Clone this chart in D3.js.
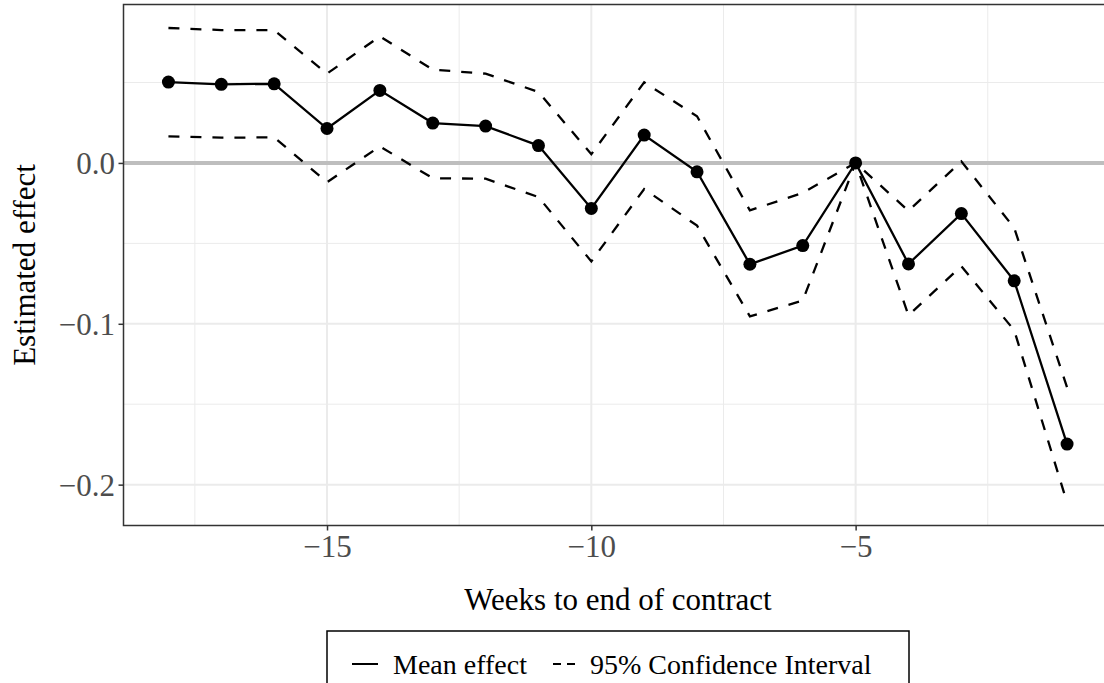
<!doctype html>
<html>
<head>
<meta charset="utf-8">
<script src="https://d3js.org/d3.v7.min.js"></script>
<style>
  body {margin: 0; background: #fff;}
  text {font-family: "Liberation Serif", "DejaVu Serif", serif;}
</style>
</head>
<body>
<svg id="chart" width="1104" height="683"></svg>
<script>
// weeks to end of contract
const weeks = [-18, -17, -16, -15, -14, -13, -12, -11, -10, -9, -8, -7, -6, -5, -4, -3, -2, -1];
// point estimates and 95% CI bounds
const meanEffect = [0.0503, 0.0489, 0.0492, 0.0214, 0.0451, 0.0248, 0.0229, 0.0108, -0.0283, 0.0173, -0.0055, -0.0630, -0.0514, 0, -0.0628, -0.0315, -0.0733, -0.1748];
const upperCI    = [0.0839, 0.0826, 0.0826, 0.0555, 0.0787, 0.0580, 0.0555, 0.0441, 0.0054, 0.0501, 0.0290, -0.0295, -0.0186, 0, -0.0298, 0.0010, -0.0404, -0.1395];
const lowerCI    = [0.0165, 0.0157, 0.0159, -0.0120, 0.0103, -0.0095, -0.0098, -0.0212, -0.0612, -0.0162, -0.0390, -0.0954, -0.0855, 0, -0.0947, -0.0642, -0.1040, -0.2112];
const xTicks = [-15, -10, -5];
const xMinor = [-17.5, -12.5, -7.5, -2.5];
const yTicks = [0, -0.1, -0.2];
const yMinor = [0.05, -0.05, -0.15];
const legendLabels = ["Mean effect", "95% Confidence Interval"];

const svg = d3.select("#chart");
const pLeft = 123.5, pTop = 4.5, pBottom = 525.5, pRight = 1112;

const x = d3.scaleLinear().domain([-18.85, -0.15]).range([pLeft, pRight]);
const y = d3.scaleLinear().domain([-0.2254, 0.0985]).range([pBottom, pTop]);

const fmtY = d => d3.format(".1f")(d).replace("-", "\u2212");
const fmtX = d => String(d).replace("-", "\u2212");

// grid
const grid = svg.append("g");
grid.selectAll(".ymin").data(yMinor).join("line")
  .attr("x1", pLeft).attr("x2", pRight).attr("y1", d => y(d)).attr("y2", d => y(d))
  .attr("stroke", "#ebebeb").attr("stroke-width", 1);
grid.selectAll(".xmin").data(xMinor).join("line")
  .attr("y1", pTop).attr("y2", pBottom).attr("x1", d => x(d)).attr("x2", d => x(d))
  .attr("stroke", "#ebebeb").attr("stroke-width", 1);
grid.selectAll(".ymaj").data(yTicks).join("line")
  .attr("x1", pLeft).attr("x2", pRight).attr("y1", d => y(d)).attr("y2", d => y(d))
  .attr("stroke", "#ebebeb").attr("stroke-width", 2);
grid.selectAll(".xmaj").data(xTicks).join("line")
  .attr("y1", pTop).attr("y2", pBottom).attr("x1", d => x(d)).attr("x2", d => x(d))
  .attr("stroke", "#ebebeb").attr("stroke-width", 2);

// zero reference line
svg.append("line")
  .attr("x1", pLeft).attr("x2", pRight).attr("y1", y(0)).attr("y2", y(0))
  .attr("stroke", "#bebebe").attr("stroke-width", 4);

// lines
const line = d3.line().x((d, i) => x(weeks[i])).y(d => y(d));
svg.append("path").datum(upperCI).attr("d", line)
  .attr("fill", "none").attr("stroke", "#000").attr("stroke-width", 2.3)
  .attr("stroke-dasharray", "11,11");
svg.append("path").datum(lowerCI).attr("d", line)
  .attr("fill", "none").attr("stroke", "#000").attr("stroke-width", 2.3)
  .attr("stroke-dasharray", "11,11");
svg.append("path").datum(meanEffect).attr("d", line)
  .attr("fill", "none").attr("stroke", "#000").attr("stroke-width", 2.3);
svg.append("g").selectAll("circle").data(meanEffect).join("circle")
  .attr("cx", (d, i) => x(weeks[i])).attr("cy", d => y(d)).attr("r", 6.5)
  .attr("fill", "#000");

// panel border
svg.append("rect")
  .attr("x", pLeft).attr("y", pTop).attr("width", pRight - pLeft).attr("height", pBottom - pTop)
  .attr("fill", "none").attr("stroke", "#333").attr("stroke-width", 1.5);

// axes
const xAxis = svg.append("g").attr("transform", `translate(0,${pBottom})`)
  .call(d3.axisBottom(x).tickValues(xTicks).tickFormat(fmtX).tickSize(5));
const yAxis = svg.append("g").attr("transform", `translate(${pLeft},0)`)
  .call(d3.axisLeft(y).tickValues(yTicks).tickFormat(fmtY).tickSize(5).tickPadding(3.5));
[xAxis, yAxis].forEach(a => {
  a.select(".domain").remove();
  a.selectAll(".tick line").attr("stroke", "#333").attr("stroke-width", 1.5);
  a.selectAll(".tick text").attr("fill", "#4d4d4d").style("font-size", "31px")
    .style("font-family", '"Liberation Serif", serif');
});
xAxis.selectAll(".tick text").attr("y", 31.5).attr("dy", 0);
yAxis.selectAll(".tick text").attr("dy", "0.34em");

// axis titles
svg.append("text").attr("x", 618).attr("y", 610).attr("text-anchor", "middle")
  .style("font-size", "31px").text("Weeks to end of contract");
svg.append("text").attr("transform", `translate(35,${(pTop + pBottom) / 2}) rotate(-90)`)
  .attr("text-anchor", "middle").style("font-size", "31px").text("Estimated effect");

// legend
const lg = svg.append("g");
lg.append("rect").attr("x", 327).attr("y", 631).attr("width", 582).attr("height", 70)
  .attr("fill", "#fff").attr("stroke", "#000").attr("stroke-width", 1.5);
lg.append("line").attr("x1", 352).attr("x2", 378).attr("y1", 664).attr("y2", 664)
  .attr("stroke", "#000").attr("stroke-width", 2);
lg.append("text").attr("x", 393).attr("y", 673.5).style("font-size", "28px").text(legendLabels[0]);
lg.append("line").attr("x1", 553).attr("x2", 579).attr("y1", 664).attr("y2", 664)
  .attr("stroke", "#000").attr("stroke-width", 2).attr("stroke-dasharray", "8,6");
lg.append("text").attr("x", 590).attr("y", 673.5).style("font-size", "28px").text(legendLabels[1]);
</script>
</body>
</html>
